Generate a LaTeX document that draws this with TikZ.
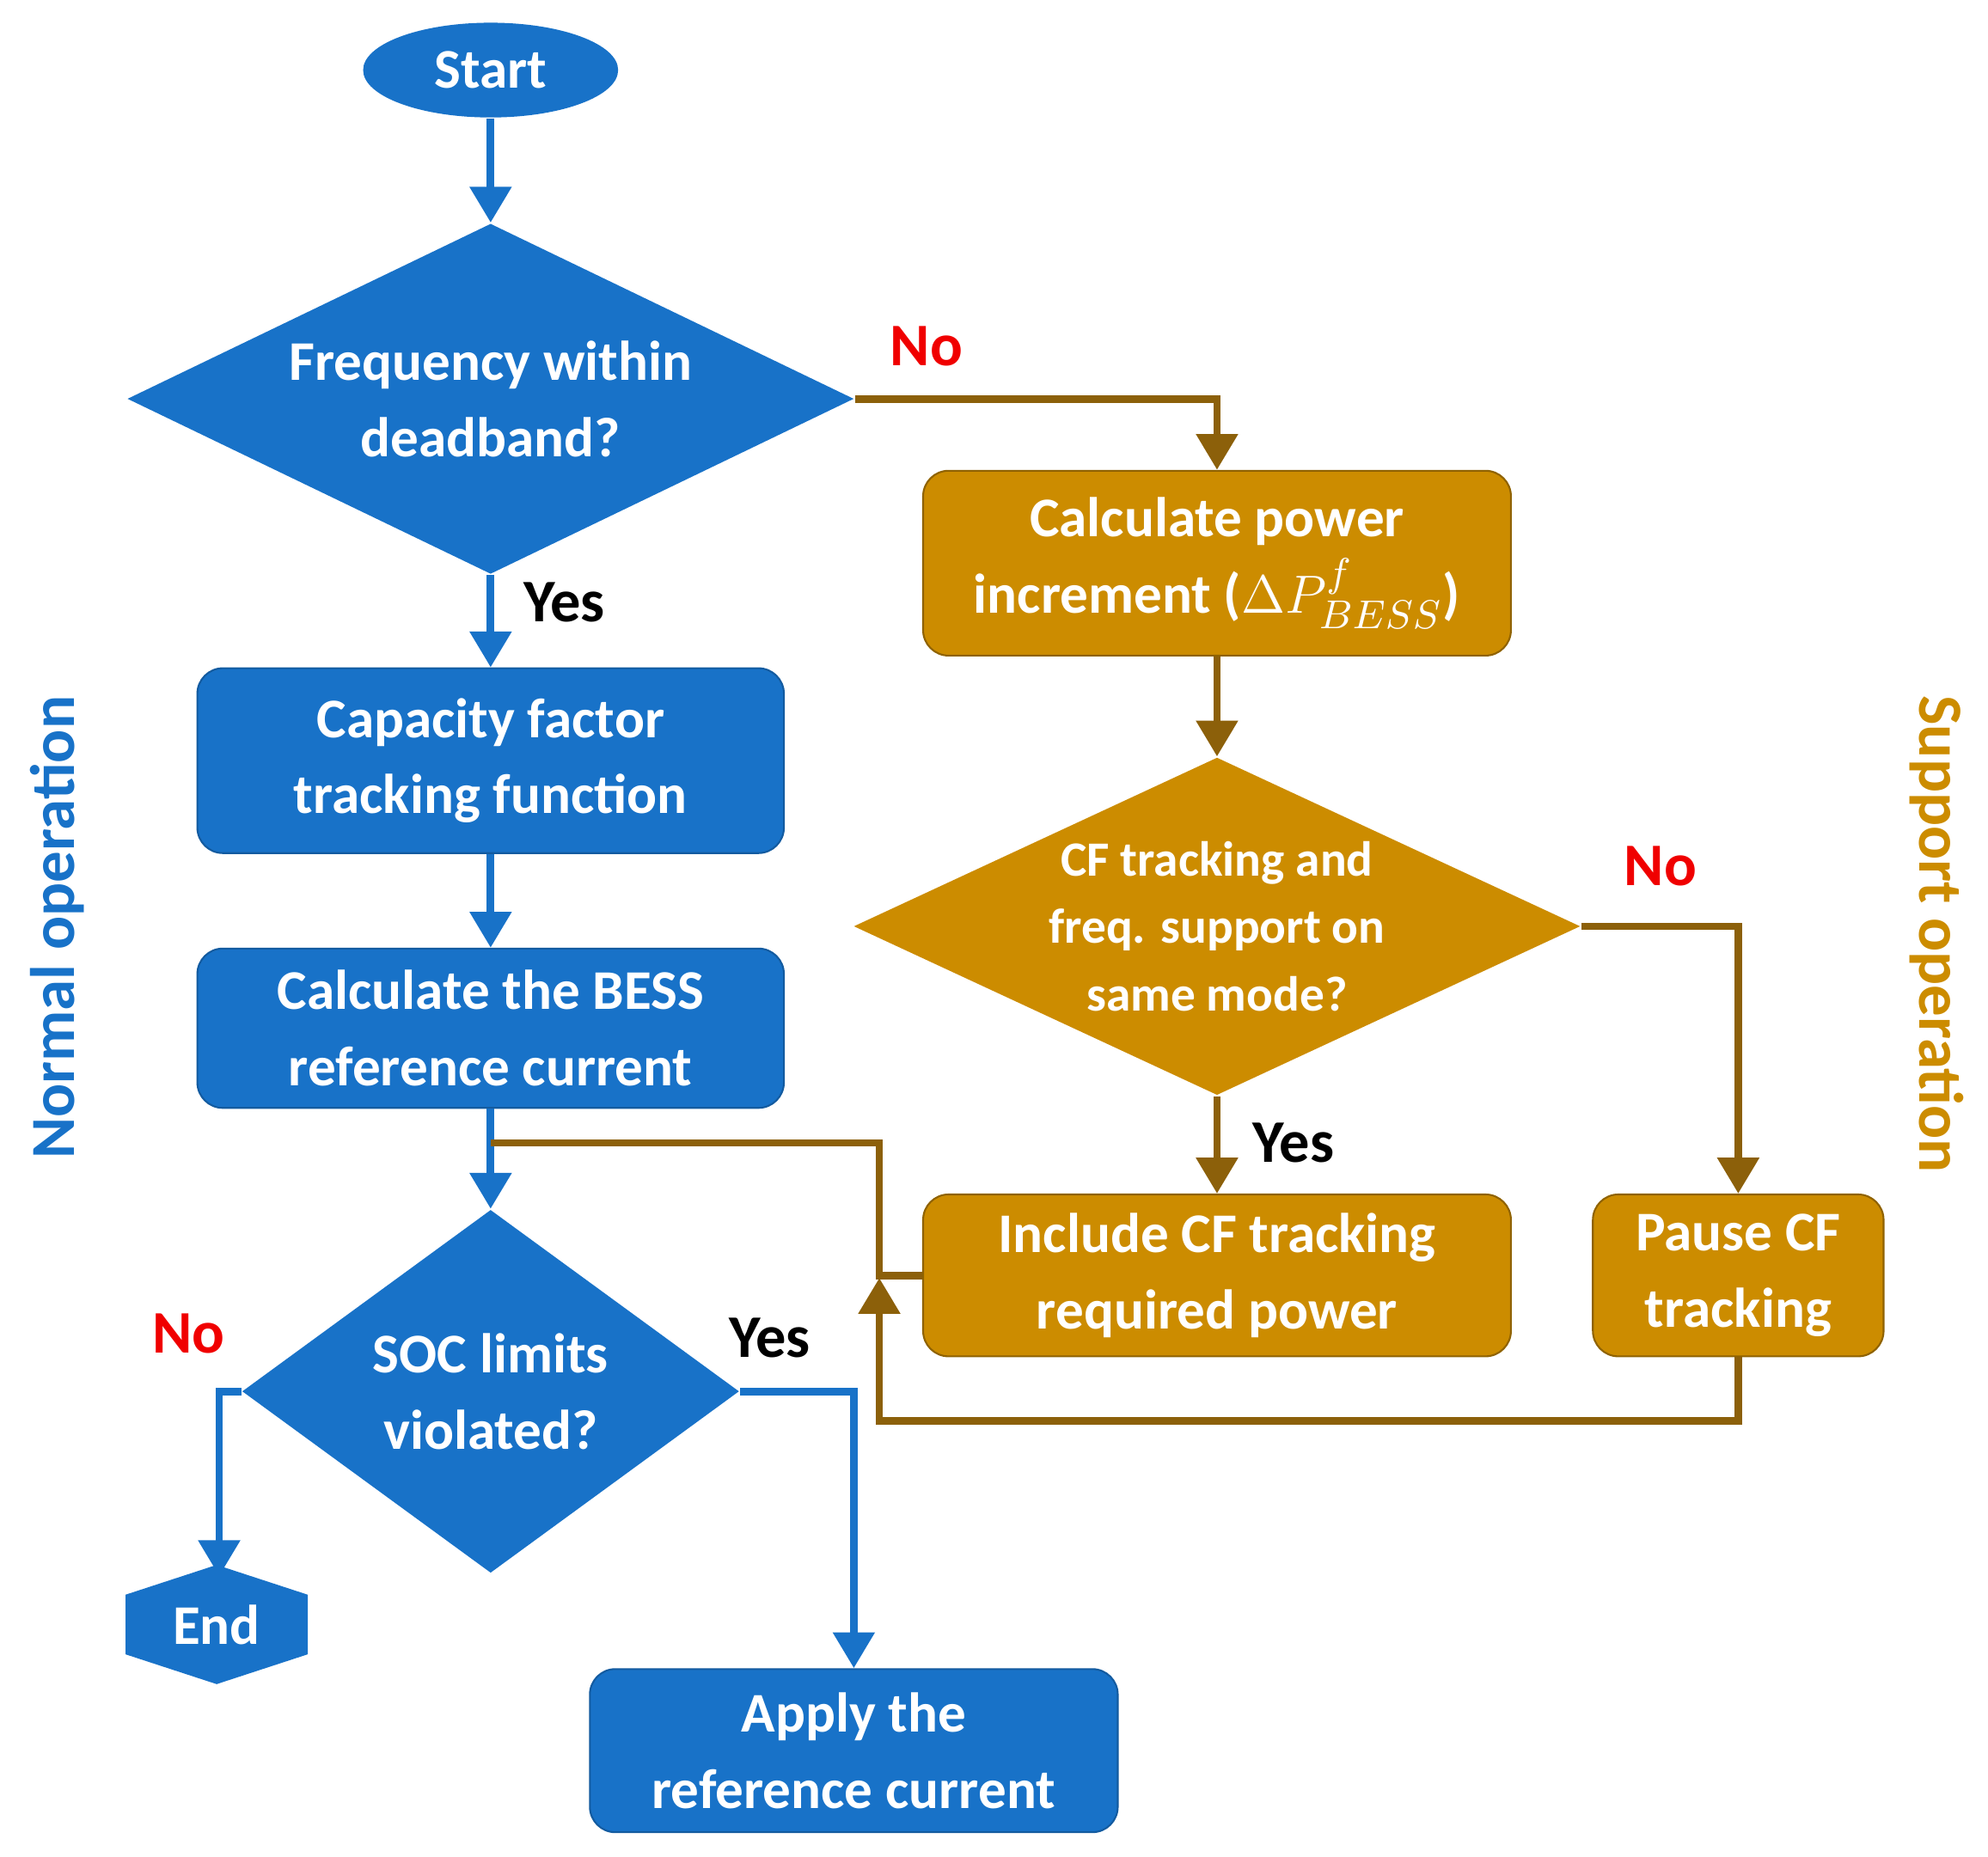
\documentclass[tikz,border=0pt]{standalone}
\usepackage{fontspec}
\setmainfont{Carlito}
\usetikzlibrary{shapes.geometric,arrows.meta}
\definecolor{bl}{RGB}{24,114,200}
\definecolor{gd}{RGB}{204,140,0}
\definecolor{br}{RGB}{140,96,10}
\definecolor{nr}{RGB}{240,0,0}
\begin{document}
\begin{tikzpicture}[x=0.01cm,y=-0.01cm,
 txt/.style={text=white,font=\fontsize{12.5}{17}\selectfont\bfseries,align=center},
 bbox/.style={txt,draw=bl!80!black,fill=bl,rounded corners=0.2cm,minimum width=460\pgflinewidth,inner sep=0pt},
 gbox/.style={txt,draw=gd!70!black,fill=gd,rounded corners=0.2cm,inner sep=0pt},
 dia/.style={txt,diamond,inner sep=0pt},
 bl/.style={draw=bl,line width=1.7pt,-{Triangle[length=8pt,width=9pt]}},
 br/.style={draw=br,line width=1.7pt,-{Triangle[length=8pt,width=9pt]}},
 lab/.style={font=\fontsize{13.5}{16}\selectfont\bfseries},
]
\useasboundingbox (0,0) rectangle (1560,1457);
\node[txt,ellipse,fill=bl,minimum width=2cm,minimum height=0.7cm] (start) at (385,55) {Start};
\node[dia,fill=bl,minimum width=5.7cm,minimum height=2.75cm,aspect=2.07] (d1) at (385,313) {Frequency within\\deadband?};
\node[bbox,minimum width=4.6cm,minimum height=1.45cm] (cap) at (385,597) {Capacity factor\\tracking function};
\node[bbox,minimum width=4.6cm,minimum height=1.25cm] (calc) at (385,807) {Calculate the BESS\\reference current};
\node[dia,fill=bl,minimum width=3.9cm,minimum height=2.85cm,aspect=1.37] (soc) at (385,1092) {SOC limits\\violated?};
\node[txt,regular polygon,regular polygon sides=6,shape border rotate=90,fill=bl,minimum width=1.1cm,inner sep=0pt,xscale=1.5,yscale=0.85] (endn) at (170,1275) {};
\node[txt] at (170,1275) {End};
\node[bbox,minimum width=4.14cm,minimum height=1.28cm] (apply) at (670,1374) {Apply the\\reference current};
\node[gbox,minimum width=4.61cm,minimum height=1.45cm] (pow) at (955,442) {Calculate power\\increment ($\Delta P^{f}_{BESS}$)};
\node[dia,fill=gd,minimum width=5.7cm,minimum height=2.65cm,aspect=2.15,font=\fontsize{11}{15}\selectfont\bfseries] (cf) at (955,727) {CF tracking and\\freq. support on\\same mode?};
\node[gbox,minimum width=4.61cm,minimum height=1.27cm] (inc) at (955,1001) {Include CF tracking\\required power};
\node[gbox,minimum width=2.28cm,minimum height=1.27cm] (pause) at (1364,1001) {Pause CF\\tracking};
\coordinate (j1) at (690,897);
\coordinate (j2) at (385,897);
\draw[bl] (start) -- (d1);
\draw[bl] (d1.south) -- (cap);
\draw[bl] (cap) -- (calc);
\draw[bl] (calc) -- (soc.north);
\draw[br] (d1.east) -| (pow.north);
\draw[br] (pow) -- (cf.north);
\draw[br] (cf.south) -- (inc);
\draw[br] (cf.east) -| (pause.north);
\draw[br,-] (inc.west) -| (j1) -- (j2);
\draw[br] (pause.south) |- (690,1115) -- (690,1003);
\draw[bl] (soc.west) -- (172,1092) -- (172,1237);
\draw[bl] (soc.east) -| (apply.north);
\node[lab,text=nr] at (727,272) {No};
\node[lab] at (443,473) {Yes};
\node[lab,text=nr] at (1303,680) {No};
\node[lab] at (1015,897) {Yes};
\node[lab,text=nr] at (148,1047) {No};
\node[lab] at (604,1050) {Yes};
\node[lab,text=bl,rotate=90,font=\fontsize{14}{16}\selectfont\bfseries] at (45,728) {Normal operation};
\node[lab,text=gd,rotate=-90,font=\fontsize{14}{16}\selectfont\bfseries] at (1520,733) {Support operation};
\end{tikzpicture}
\end{document}
